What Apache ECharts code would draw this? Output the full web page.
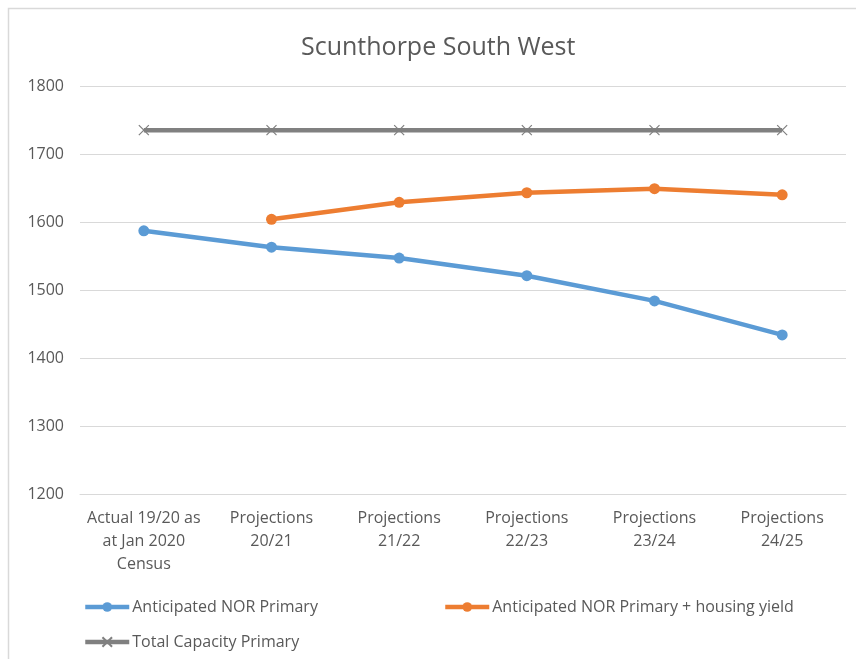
<!DOCTYPE html>
<html>
<head>
<meta charset="utf-8">
<script src="https://cdn.jsdelivr.net/npm/echarts@6/dist/echarts.min.js"></script>
<style>
  html, body { margin: 0; padding: 0; background: #fff; }
  #chart { width: 856px; height: 659px; }
</style>
</head>
<body>
<div id="chart"></div>
<script>
// chart data
const categories = [
  'Actual 19/20 as\nat Jan 2020\nCensus',
  'Projections\n20/21',
  'Projections\n21/22',
  'Projections\n22/23',
  'Projections\n23/24',
  'Projections\n24/25'
]
const norPrimary = [1587, 1563, 1547, 1521, 1484, 1434]
const norHousing = [null, 1604, 1629, 1643, 1649, 1640]
const totalCapacity = [1735, 1735, 1735, 1735, 1735, 1735]

const FONT = "'Open Sans', sans-serif"
const TEXT = '#595959'
const crossSymbol = 'path://M0,0L10,10M10,0L0,10'

const legendBase = {
  itemWidth: 44,
  itemHeight: 12,
  lineStyle: { width: 4.5 },
  textStyle: { fontFamily: FONT, fontSize: 16, color: TEXT, padding: [0, 0, 0, -2] }
}

const option = {
  animation: false,
  backgroundColor: '#fff',
  textStyle: { fontFamily: FONT },
  title: {
    text: 'Scunthorpe South West',
    left: 296,
    top: 30,
    textStyle: { fontFamily: FONT, fontSize: 25, fontWeight: 'normal', color: TEXT }
  },
  graphic: [
    {
      type: 'rect',
      shape: { x: 8.5, y: 8.5, width: 900, height: 700 },
      style: { fill: 'none', stroke: '#d9d9d9', lineWidth: 1.5 },
      silent: true
    }
  ],
  grid: { left: 80, right: 10, top: 86, bottom: 165 },
  legend: [
    Object.assign({ data: ['Anticipated NOR Primary'], left: 78, top: 594 }, legendBase),
    Object.assign({ data: ['Anticipated NOR Primary + housing yield'], left: 438, top: 594 }, legendBase),
    Object.assign({ data: ['Total Capacity Primary'], left: 78, top: 629 }, legendBase)
  ],
  xAxis: {
    type: 'category',
    data: categories,
    boundaryGap: true,
    axisTick: { show: false },
    axisLine: { lineStyle: { color: '#d9d9d9', width: 1 } },
    axisLabel: {
      interval: 0,
      margin: 13,
      lineHeight: 23,
      fontSize: 16,
      fontFamily: FONT,
      color: TEXT
    }
  },
  yAxis: {
    type: 'value',
    min: 1200,
    max: 1800,
    interval: 100,
    axisLine: { show: false },
    axisTick: { show: false },
    axisLabel: {
      margin: 16,
      fontSize: 16,
      fontFamily: FONT,
      color: TEXT,
      formatter: function (v) { return String(v) }
    },
    splitLine: { lineStyle: { color: '#d9d9d9', width: 1 } }
  },
  series: [
    {
      name: 'Anticipated NOR Primary',
      type: 'line',
      data: norPrimary,
      symbol: 'circle',
      symbolSize: 11,
      color: '#5b9bd5',
      lineStyle: { width: 4.5, color: '#5b9bd5' },
      itemStyle: { color: '#5b9bd5' }
    },
    {
      name: 'Anticipated NOR Primary + housing yield',
      type: 'line',
      data: norHousing,
      symbol: 'circle',
      symbolSize: 11,
      color: '#ed7d31',
      lineStyle: { width: 4.5, color: '#ed7d31' },
      itemStyle: { color: '#ed7d31' }
    },
    {
      name: 'Total Capacity Primary',
      type: 'line',
      data: totalCapacity,
      symbol: crossSymbol,
      symbolSize: 10,
      color: '#808080',
      lineStyle: { width: 4.5, color: '#808080' },
      itemStyle: { color: '#808080', borderColor: '#808080', borderWidth: 1.2 },
      z: 1
    }
  ]
}

const myChart = echarts.init(document.getElementById('chart'), null, { renderer: 'canvas' })
myChart.setOption(option)
</script>
</body>
</html>
